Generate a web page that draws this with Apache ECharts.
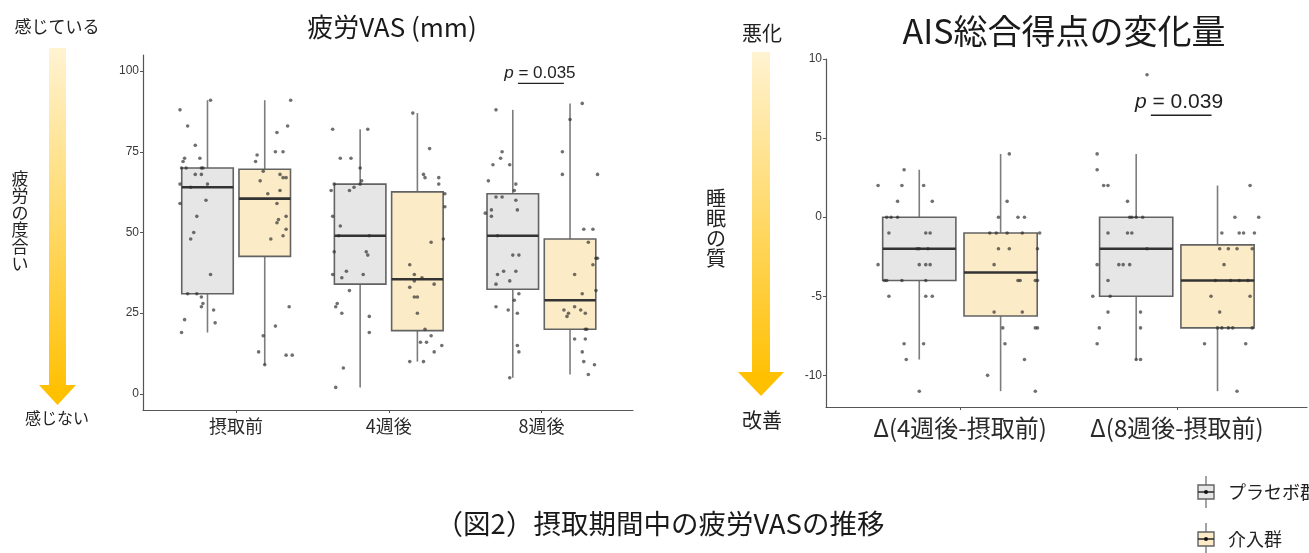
<!DOCTYPE html>
<html><head><meta charset="utf-8">
<script src="https://cdn.jsdelivr.net/npm/echarts@6/dist/echarts.min.js"></script>
<style>html,body{margin:0;padding:0;background:#fff}#c{width:1309px;height:553px}</style>
</head><body><div id="c"></div>
<script>
// ---------- data ----------
const groups = ['プラセボ群', '介入群'];
const vasCategories = ['摂取前', '4週後', '8週後'];
const aisCategories = ['Δ(4週後-摂取前)', 'Δ(8週後-摂取前)'];
const vasTicks = [0, 25, 50, 75, 100];
const aisTicks = [-10, -5, 0, 5, 10];
const vasP = '0.035';
const aisP = '0.039';

// box stats per category: [lower whisker, Q1, median, Q3, upper whisker]
const vasBoxPlacebo = [[19, 31, 64, 70, 91], [2, 34, 49, 65, 82], [5, 32.4, 49, 62, 88]];
const vasBoxActive  = [[9, 42.6, 60.5, 69.6, 91], [10, 19.6, 35.5, 62.6, 87], [6, 20, 29, 48, 90]];
const aisBoxPlacebo = [[-9, -4, -2, 0, 3], [-9, -5, -2, 0, 4]];
const aisBoxActive  = [[-11, -6.25, -3.5, -1, 4], [-11, -7, -4, -1.75, 2]];

// individual subjects: [jitter, value]
const vasPtsPlacebo = [
  [[-0.18,88],[0.02,91],[-0.13,83],[-0.08,77],[-0.05,73],[-0.15,73],[-0.16,72],[-0.17,70],[-0.14,70],[-0.04,70],[-0.03,70],[-0.08,68],[-0.04,68],[0.0,65],[-0.18,65],[-0.11,64],[-0.01,60],[-0.18,59],[-0.07,55],[-0.09,50],[-0.11,48],[0.02,37],[-0.13,31],[-0.07,31],[-0.04,30],[-0.03,28],[-0.04,27],[0.04,26],[-0.15,23],[0.05,22],[-0.17,19]],
  [[-0.18,82],[0.05,82],[-0.13,73],[-0.06,73],[0.0,70],[0.01,66],[-0.17,65],[0.0,65],[-0.19,63],[-0.07,63],[-0.04,64],[-0.18,55],[-0.13,52],[-0.14,49],[0.06,49],[-0.17,44],[0.04,44],[0.05,43],[-0.09,38],[-0.18,37],[0.02,37],[-0.12,36],[-0.07,32],[-0.15,28],[-0.16,27],[-0.12,25],[0.06,24],[0.06,19],[-0.11,8],[-0.16,2]],
  [[-0.11,88],[-0.07,75],[-0.08,73],[-0.13,71],[-0.02,71],[-0.16,66],[0.02,65],[0.01,63],[-0.11,61],[-0.07,61],[0.02,60],[-0.14,57],[0.03,57],[-0.18,56],[-0.14,55],[-0.10,49],[0.0,43],[0.04,43],[-0.06,38],[0.02,38],[-0.10,37],[-0.02,35],[-0.11,34],[0.04,31],[0.01,29],[-0.11,27],[-0.03,26],[0.03,25],[0.03,15],[0.04,13],[-0.02,5]]
];
const vasPtsActive = [
  [[0.17,91],[0.15,83],[0.08,81],[0.07,75],[0.12,75],[-0.05,74],[-0.06,72],[-0.01,69],[-0.03,66],[0.10,68],[0.12,67],[0.14,67],[0.02,62],[0.10,63],[0.08,59],[0.14,55],[0.09,54],[0.08,53],[0.14,51],[0.12,49],[0.04,48],[0.16,27],[0.07,21],[-0.01,18],[-0.04,13],[0.14,12],[0.18,12],[0.0,9]],
  [[-0.03,87],[0.08,76],[0.04,68],[0.05,67],[0.14,67],[0.14,65],[0.18,62],[0.18,58],[0.17,48],[0.09,47],[-0.05,40],[-0.02,37],[0.03,36],[-0.02,35],[0.11,34],[-0.05,33],[-0.02,30],[0.0,30],[0.0,25],[0.05,20],[0.09,18],[0.02,16],[0.06,16],[0.16,15],[0.11,13],[-0.05,10],[0.04,10]],
  [[0.08,90],[0.0,85],[-0.05,75],[-0.05,68],[0.18,68],[0.09,51],[0.15,51],[0.12,47],[0.17,42],[0.18,42],[0.15,40],[0.03,37],[0.17,32],[0.08,31],[0.03,27],[0.07,26],[-0.04,26],[0.10,25],[-0.01,25],[-0.02,24],[0.10,20],[0.11,20],[0.03,17],[0.10,17],[0.08,13],[0.09,10],[0.16,9],[0.12,6]]
];
const aisPtsPlacebo = [
  [[-0.07,3],[-0.19,2],[-0.08,2],[0.02,2],[-0.10,1],[0.06,1],[-0.15,0],[-0.13,0],[-0.10,0],[-0.14,-1],[0.03,-1],[0.05,-1],[-0.01,-2],[0.0,-2],[0.04,-2],[-0.19,-3],[0.0,-3],[0.03,-3],[0.05,-3],[-0.16,-4],[-0.15,-4],[-0.08,-4],[0.03,-4],[-0.14,-5],[0.03,-5],[0.06,-5],[-0.07,-8],[0.02,-8],[-0.06,-9],[0.0,-11]],
  [[0.05,9],[-0.18,4],[-0.18,3],[-0.15,2],[-0.13,2],[-0.04,1],[-0.03,0],[-0.02,0],[0.0,0],[0.03,0],[-0.13,-1],[-0.04,-1],[-0.02,-1],[0.05,-2],[-0.18,-3],[-0.08,-3],[-0.06,-3],[-0.03,-3],[-0.13,-4],[-0.20,-5],[-0.12,-5],[-0.13,-6],[0.02,-6],[-0.17,-7],[0.02,-7],[-0.18,-8],[0.0,-9],[0.02,-9]]
];
const aisPtsActive = [
  [[0.04,4],[0.03,1],[-0.01,0],[0.08,0],[0.11,0],[-0.05,-1],[-0.02,-1],[0.03,-1],[0.10,-1],[0.18,-1],[-0.01,-2],[0.04,-2],[0.17,-2],[-0.03,-3],[0.08,-4],[0.09,-4],[0.16,-4],[0.17,-4],[-0.03,-6],[0.10,-6],[0.01,-7],[0.17,-7],[0.16,-7],[0.02,-8],[0.11,-9],[-0.06,-10],[0.16,-11]],
  [[0.15,2],[0.08,0],[0.19,0],[0.02,-1],[0.10,-1],[0.12,-1],[0.17,-1],[0.01,-2],[0.05,-2],[0.09,-2],[0.16,-2],[0.03,-3],[-0.01,-4],[0.06,-4],[0.10,-4],[0.14,-4],[-0.03,-5],[0.15,-5],[0.01,-6],[0.0,-7],[0.02,-7],[0.05,-7],[0.07,-7],[0.16,-7],[-0.06,-8],[0.13,-8],[0.09,-11]]
];

// ---------- styling ----------
const FILL = ['#E6E6E6', '#FCEBC7'];
const DODGE = 0.1875, BOX_W = 0.3375;
const JP = '"Noto Sans CJK JP", sans-serif';
const NUM = '"Liberation Sans", "Noto Sans CJK JP", sans-serif';
const AXIS_COLOR = '#555';

function boxSeries(ai, stats, offset, fill) {
  return {
    type: 'custom', xAxisIndex: ai, yAxisIndex: ai, z: 2, silent: true,
    data: stats.map((s, i) => [i + 1 + offset, s[0], s[1], s[2], s[3], s[4]]),
    encode: { x: 0, y: [1, 2, 3, 4, 5] },
    renderItem: (params, api) => {
      const x = api.value(0);
      const lo = api.coord([x, api.value(1)]);
      const q1 = api.coord([x, api.value(2)]);
      const md = api.coord([x, api.value(3)]);
      const q3 = api.coord([x, api.value(4)]);
      const hi = api.coord([x, api.value(5)]);
      const l = api.coord([x - BOX_W / 2, 0])[0];
      const r = api.coord([x + BOX_W / 2, 0])[0];
      const wStyle = { stroke: '#7d7d7d', lineWidth: 1.6 };
      return { type: 'group', children: [
        { type: 'line', shape: { x1: lo[0], y1: lo[1], x2: q1[0], y2: q1[1] }, style: wStyle },
        { type: 'line', shape: { x1: q3[0], y1: q3[1], x2: hi[0], y2: hi[1] }, style: wStyle },
        { type: 'rect', shape: { x: l, y: q3[1], width: r - l, height: q1[1] - q3[1] }, style: { fill: fill, stroke: '#636363', lineWidth: 1.6 } },
        { type: 'line', shape: { x1: l, y1: md[1], x2: r, y2: md[1] }, style: { stroke: '#333', lineWidth: 2.6 } }
      ] };
    }
  };
}
function ptsSeries(ai, pts, offset) {
  const data = [];
  pts.forEach((arr, i) => arr.forEach(p => data.push([i + 1 + offset + p[0], p[1]])));
  return {
    type: 'scatter', xAxisIndex: ai, yAxisIndex: ai, z: 3, silent: true,
    symbolSize: 3.6, data: data,
    itemStyle: { color: 'rgba(45,45,45,0.85)' }
  };
}
function pSeries(ai, pText, cx, ty, x1, x2, ly, fs) {
  return {
    type: 'custom', xAxisIndex: ai, yAxisIndex: ai, z: 4, silent: true,
    data: [[cx, ty, x1, x2, ly]],
    renderItem: (params, api) => {
      const t = api.coord([api.value(0), api.value(1)]);
      const a = api.coord([api.value(2), api.value(4)]);
      const b = api.coord([api.value(3), api.value(4)]);
      return { type: 'group', children: [
        { type: 'text', x: t[0], y: t[1], style: {
          text: '{i|p} = ' + pText, fill: '#222', fontSize: fs, fontFamily: NUM,
          align: 'center', verticalAlign: 'middle',
          rich: { i: { fontStyle: 'italic', fontSize: fs, fontFamily: NUM, fill: '#222' } } } },
        { type: 'line', shape: { x1: a[0], y1: a[1], x2: b[0], y2: b[1] }, style: { stroke: '#222', lineWidth: 1.4 } }
      ] };
    }
  };
}
function xAxisCfg(gi, min, max, cats, fs, margin) {
  const vals = cats.map((c, i) => i + 1);
  return {
    type: 'value', gridIndex: gi, min: min, max: max,
    splitLine: { show: false },
    axisLine: { show: true, onZero: false, lineStyle: { color: AXIS_COLOR, width: 1.2 } },
    axisTick: { show: true, customValues: vals, length: 3, lineStyle: { color: AXIS_COLOR } },
    axisLabel: { customValues: vals, formatter: v => cats[Math.round(v) - 1], color: '#2a2a2a', fontSize: fs, fontFamily: JP, margin: margin }
  };
}
function yAxisCfg(gi, min, max, ticks, fs) {
  return {
    type: 'value', gridIndex: gi, min: min, max: max,
    splitLine: { show: false },
    axisLine: { show: true, onZero: false, lineStyle: { color: AXIS_COLOR, width: 1.2 } },
    axisTick: { show: true, customValues: ticks, length: 3, lineStyle: { color: AXIS_COLOR } },
    axisLabel: { customValues: ticks, color: '#3a3a3a', fontSize: fs, fontFamily: NUM, margin: 4 }
  };
}

const arrowGrad = { type: 'linear', x: 0, y: 0, x2: 0, y2: 1, colorStops: [{ offset: 0, color: '#FFF3D2' }, { offset: 1, color: '#FFC107' }] };
function sideArrow(cx, top, headTop, tip, shaftW, headW) {
  return [
    { type: 'rect', shape: { x: cx - shaftW / 2, y: top, width: shaftW, height: headTop - top + 1 }, style: { fill: arrowGrad } },
    { type: 'polygon', shape: { points: [[cx - headW / 2, headTop], [cx + headW / 2, headTop], [cx, tip]] }, style: { fill: '#FFC000' } }
  ];
}
function label(x, y, text, fs, lh) {
  return { type: 'text', x: x, y: y, style: { text: text, fontSize: fs, lineHeight: lh || fs, fontFamily: JP, fill: '#222', align: 'center', verticalAlign: 'middle' } };
}
function vertical(s) { return s.split('').join('\n'); }
function legendItem(y, name, fill) {
  const bx = 1198, bw = 16, bh = 14;
  return [
    { type: 'line', shape: { x1: bx + bw / 2, y1: y - 16, x2: bx + bw / 2, y2: y + 16 }, style: { stroke: '#7d7d7d', lineWidth: 1.4 } },
    { type: 'rect', shape: { x: bx, y: y - bh / 2, width: bw, height: bh }, style: { fill: fill, stroke: '#636363', lineWidth: 1.4 } },
    { type: 'line', shape: { x1: bx, y1: y, x2: bx + bw, y2: y }, style: { stroke: '#333', lineWidth: 1.6 } },
    { type: 'circle', shape: { cx: bx + bw / 2, cy: y, r: 2 }, style: { fill: '#111' } },
    { type: 'text', x: 1228, y: y, style: { text: name, fontSize: 18, fontFamily: JP, fill: '#222', verticalAlign: 'middle' } }
  ];
}

const chart = echarts.init(document.getElementById('c'), null, { renderer: 'canvas' });
chart.setOption({
  backgroundColor: '#fff',
  animation: false,
  title: [
    { text: '疲労VAS (mm)', left: 387, top: 9, textAlign: 'center', textStyle: { fontSize: 26, fontWeight: 'normal', color: '#1a1a1a', fontFamily: JP } },
    { text: 'AIS総合得点の変化量', left: 1059, top: 9, textAlign: 'center', textStyle: { fontSize: 34, fontWeight: 'normal', color: '#1a1a1a', fontFamily: JP } },
    { text: '（図2）摂取期間中の疲労VASの推移', left: 655, top: 505, textAlign: 'center', textStyle: { fontSize: 27.5, fontWeight: 'normal', color: '#1a1a1a', fontFamily: JP } }
  ],
  grid: [
    { left: 143, top: 55, width: 490, height: 355 },
    { left: 826, top: 59, width: 481, height: 348 }
  ],
  xAxis: [
    xAxisCfg(0, 0.39, 3.6, vasCategories, 18, 7),
    xAxisCfg(1, 0.3825, 2.6, aisCategories, 24, 9)
  ],
  yAxis: [
    yAxisCfg(0, -5, 105, vasTicks, 12),
    yAxisCfg(1, -12, 10, aisTicks, 12)
  ],
  series: [
    boxSeries(0, vasBoxPlacebo, -DODGE, FILL[0]),
    boxSeries(0, vasBoxActive, DODGE, FILL[1]),
    boxSeries(1, aisBoxPlacebo, -DODGE, FILL[0]),
    boxSeries(1, aisBoxActive, DODGE, FILL[1]),
    ptsSeries(0, vasPtsPlacebo, -DODGE),
    ptsSeries(0, vasPtsActive, DODGE),
    ptsSeries(1, aisPtsPlacebo, -DODGE),
    ptsSeries(1, aisPtsActive, DODGE),
    pSeries(0, vasP, 2.99, 99.3, 2.846, 3.147, 96.2, 17),
    pSeries(1, aisP, 2.01, 7.3, 1.88, 2.16, 6.44, 21)
  ],
  graphic: [].concat(
    sideArrow(57.5, 48, 385, 405, 17, 37),
    sideArrow(761, 52, 372, 396, 18, 46),
    [
      label(57, 27, '感じている', 17),
      label(57, 418, '感じない', 16),
      label(20, 221, vertical('疲労の度合い'), 17, 17),
      label(762, 33, '悪化', 20),
      label(762, 420, '改善', 20),
      label(716, 228, vertical('睡眠の質'), 20, 20)
    ],
    legendItem(492, groups[0], FILL[0]),
    legendItem(539, groups[1], FILL[1])
  )
});
</script>
</body></html>
